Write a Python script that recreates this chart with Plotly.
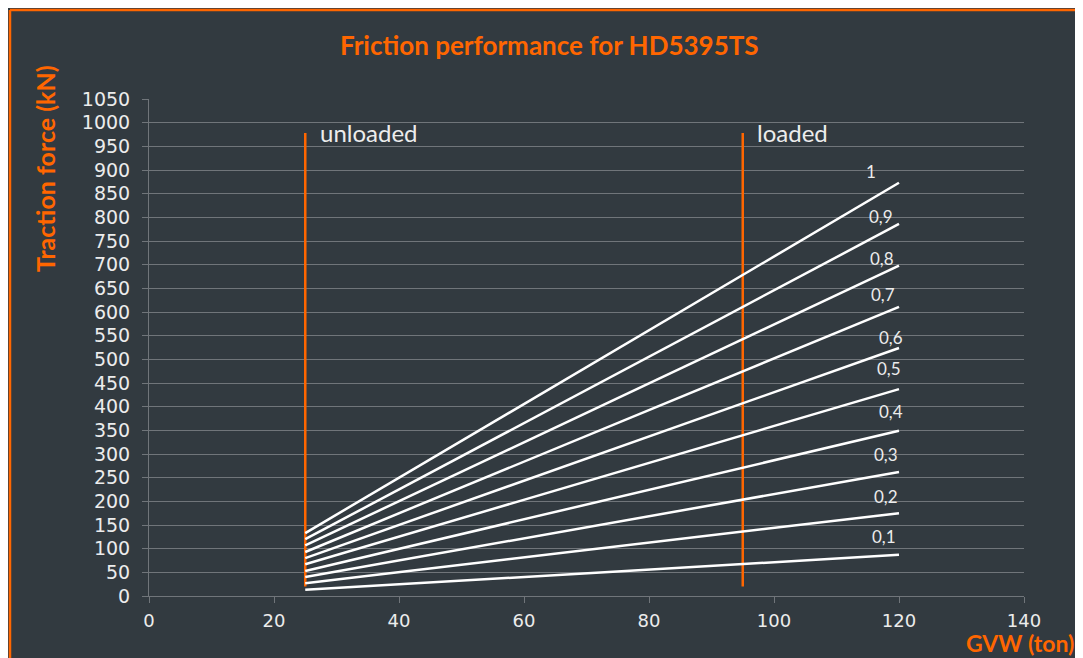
import plotly.graph_objects as go

# ---- data ----
mu_labels = ["0,1", "0,2", "0,3", "0,4", "0,5", "0,6", "0,7", "0,8", "0,9", "1"]
gvw_points = [25, 120]                      # ton
start_kN = [13, 27, 40, 53, 67, 80, 93, 107, 120, 133]
end_kN = [87, 175, 262, 349, 437, 524, 611, 698, 786, 873]
state_labels = ["unloaded", "loaded"]
state_gvw = [25, 95]
state_span_kN = [20, 978]
x_ticks = [0, 20, 40, 60, 80, 100, 120, 140]
y_ticks = list(range(0, 1051, 50))

# ---- styles ----
BG = "#323a40"
ORANGE = "#ff6600"
GRID = "#70757a"
TXT = "#ececec"

# label positions (data coords) for mu annotations
mu_label_pos = [(117.6, 125), (117.9, 211), (117.9, 298), (118.7, 389), (118.4, 480),
                (118.7, 547), (117.4, 638), (117.3, 712), (117.1, 801), (115.5, 896)]

fig = go.Figure()

for g in state_gvw:
    fig.add_trace(go.Scatter(x=[g, g], y=state_span_kN, mode="lines",
                             line=dict(color=ORANGE, width=2.5), hoverinfo="skip",
                             showlegend=False))

for lab, s, e in zip(mu_labels, start_kN, end_kN):
    fig.add_trace(go.Scatter(x=gvw_points, y=[s, e], mode="lines", name=lab,
                             line=dict(color="white", width=2.5), showlegend=False))

annotations = []
for lab, (ax, ay) in zip(mu_labels, mu_label_pos):
    annotations.append(dict(x=ax, y=ay, xref="x", yref="y", text=lab, showarrow=False,
                            font=dict(family="Lato, Open Sans", size=17, color=TXT),
                            xanchor="center", yanchor="middle"))

for lab, g in zip(state_labels, state_gvw):
    annotations.append(dict(x=g + 2.0, y=980, xref="x", yref="y", text=lab, showarrow=False,
                            font=dict(family="Lato, Open Sans", size=24, color=TXT),
                            xanchor="left", yanchor="middle"))

annotations += [
    dict(x=0.458, y=1.109, xref="paper", yref="paper", showarrow=False,
         text="<b>Friction performance for HD5395TS</b>",
         font=dict(family="Lato, Open Sans", size=26, color=ORANGE),
         xanchor="center", yanchor="middle"),
    dict(x=-0.1189, y=0.861, xref="paper", yref="paper", showarrow=False,
         text="<b>Traction force (kN)</b>", textangle=-90,
         font=dict(family="Lato, Open Sans", size=25, color=ORANGE),
         xanchor="center", yanchor="middle"),
    dict(x=0.995, y=-0.0945, xref="paper", yref="paper", showarrow=False,
         text="<b>GVW (ton)</b>",
         font=dict(family="Lato, Open Sans", size=23, color=ORANGE),
         xanchor="center", yanchor="middle"),
]

fl = (10 - 149) / 875
ft = (596 - 10) / 497
shapes = [
    dict(type="line", xref="paper", yref="paper", x0=fl, x1=fl, y0=-0.3, y1=ft,
         line=dict(color=ORANGE, width=2.5)),
    dict(type="line", xref="paper", yref="paper", x0=fl, x1=1.2, y0=ft, y1=ft,
         line=dict(color=ORANGE, width=2.5)),
]

fig.update_layout(
    width=1083, height=658,
    margin=dict(l=141, r=67, t=91, b=70),
    paper_bgcolor=BG, plot_bgcolor=BG,
    annotations=annotations, shapes=shapes,
    xaxis=dict(range=[0, 140], tickvals=x_ticks, showgrid=False, zeroline=False,
               showline=True, linecolor=GRID, linewidth=1,
               ticks="outside", ticklen=6, tickcolor=GRID, ticklabelstandoff=2,
               tickfont=dict(family="DejaVu Sans", size=18, color=TXT)),
    yaxis=dict(range=[0, 1050], tickvals=y_ticks, showgrid=True, gridcolor=GRID,
               gridwidth=1, zeroline=False, showline=True, linecolor=GRID, linewidth=1,
               ticks="outside", ticklen=6, tickcolor=GRID, ticklabelstandoff=8,
               tickfont=dict(family="DejaVu Sans", size=19, color=TXT)),
)

fig.write_html("out.html")
